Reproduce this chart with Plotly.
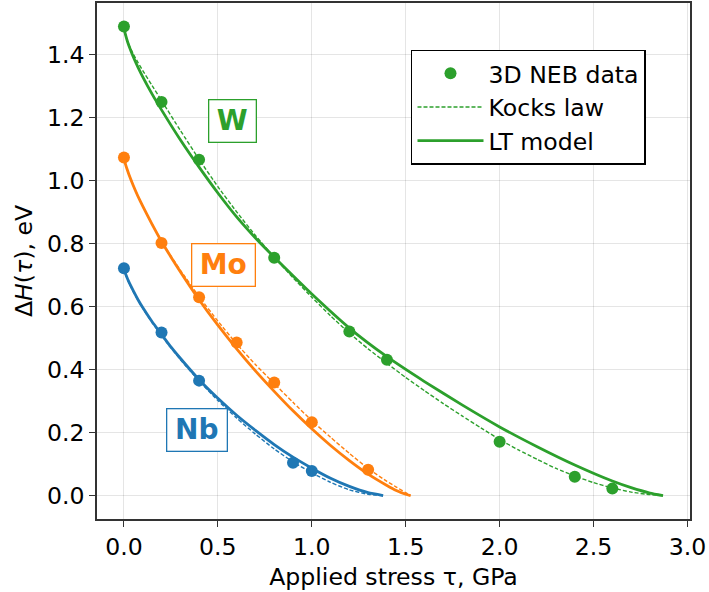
import plotly.graph_objects as go

# ---------------- data ----------------
# 3D NEB data points
W_neb_tau = [0.0, 0.2, 0.4, 0.8, 1.2, 1.4, 2.0, 2.4, 2.6]
W_neb_H = [1.490, 1.250, 1.067, 0.755, 0.521, 0.431, 0.171, 0.060, 0.022]
Mo_neb_tau = [0.0, 0.2, 0.4, 0.6, 0.8, 1.0, 1.3]
Mo_neb_H = [1.074, 0.802, 0.630, 0.486, 0.359, 0.233, 0.082]
Nb_neb_tau = [0.0, 0.2, 0.4, 0.9, 1.0]
Nb_neb_H = [0.722, 0.518, 0.365, 0.104, 0.078]

# LT model (solid) curves
W_lt_tau = [0.0, 0.005, 0.01, 0.02, 0.03, 0.05, 0.075, 0.1, 0.15, 0.2, 0.3, 0.4, 0.5, 0.6, 0.7, 0.8,
            0.9, 1.0, 1.2, 1.4, 1.6, 1.8, 2.0, 2.2, 2.4, 2.6, 2.7, 2.8, 2.87]
W_lt_H = [1.490, 1.472, 1.460, 1.440, 1.423, 1.393, 1.360, 1.330, 1.275, 1.225, 1.130, 1.043, 0.961, 0.885,
          0.818, 0.757, 0.698, 0.640, 0.532, 0.441, 0.362, 0.288, 0.218, 0.155, 0.097, 0.046, 0.025, 0.008, 0.0]
Mo_lt_tau = [0.0, 0.005, 0.01, 0.02, 0.03, 0.05, 0.075, 0.1, 0.15, 0.2, 0.25, 0.3, 0.4, 0.5, 0.6, 0.7,
             0.8, 0.9, 1.0, 1.1, 1.2, 1.3, 1.4, 1.45, 1.5, 1.526]
Mo_lt_H = [1.074, 1.060, 1.049, 1.031, 1.014, 0.984, 0.950, 0.919, 0.861, 0.807, 0.758, 0.711, 0.622,
           0.541, 0.466, 0.396, 0.331, 0.269, 0.212, 0.159, 0.111, 0.068, 0.032, 0.016, 0.004, 0.0]
Nb_lt_tau = [0.0, 0.005, 0.01, 0.02, 0.03, 0.05, 0.075, 0.1, 0.15, 0.2, 0.25, 0.3, 0.4, 0.5, 0.6, 0.7,
             0.8, 0.9, 1.0, 1.1, 1.2, 1.3, 1.38]
Nb_lt_H = [0.722, 0.710, 0.702, 0.687, 0.674, 0.650, 0.622, 0.597, 0.552, 0.512, 0.472, 0.436, 0.368,
           0.309, 0.255, 0.207, 0.162, 0.122, 0.087, 0.055, 0.029, 0.009, 0.0]

# Kocks law (dashed) curves
W_kk_tau = [0.0, 0.005, 0.01, 0.02, 0.03, 0.05, 0.075, 0.1, 0.15, 0.2, 0.3, 0.4, 0.5, 0.6, 0.7, 0.8,
            0.9, 1.0, 1.1, 1.2, 1.3, 1.4, 1.5, 1.6, 1.7, 1.8, 1.9, 2.0, 2.1, 2.2, 2.3, 2.4, 2.5, 2.6,
            2.7, 2.8, 2.87]
W_kk_H = [1.490, 1.471, 1.459, 1.441, 1.427, 1.402, 1.375, 1.350, 1.302, 1.255, 1.160, 1.068, 0.981,
          0.901, 0.826, 0.757, 0.692, 0.630, 0.571, 0.516, 0.466, 0.420, 0.375, 0.333, 0.292, 0.253,
          0.215, 0.178, 0.145, 0.115, 0.086, 0.062, 0.041, 0.024, 0.011, 0.003, 0.0]
Mo_kk_tau = [0.0, 0.005, 0.01, 0.02, 0.03, 0.05, 0.075, 0.1, 0.15, 0.2, 0.25, 0.3, 0.4, 0.5, 0.6, 0.7,
             0.8, 0.9, 1.0, 1.1, 1.2, 1.3, 1.4, 1.45, 1.5, 1.525]
Mo_kk_H = [1.074, 1.060, 1.049, 1.031, 1.015, 0.985, 0.951, 0.920, 0.862, 0.808, 0.761, 0.716, 0.632,
           0.554, 0.482, 0.416, 0.356, 0.296, 0.238, 0.185, 0.134, 0.086, 0.045, 0.027, 0.009, 0.0]
Nb_kk_tau = [0.0, 0.005, 0.01, 0.02, 0.03, 0.05, 0.075, 0.1, 0.15, 0.2, 0.25, 0.3, 0.4, 0.5, 0.6, 0.7,
             0.8, 0.9, 1.0, 1.1, 1.2, 1.3, 1.376]
Nb_kk_H = [0.722, 0.709, 0.700, 0.685, 0.671, 0.647, 0.620, 0.595, 0.549, 0.508, 0.469, 0.432, 0.364,
           0.302, 0.246, 0.195, 0.148, 0.107, 0.072, 0.042, 0.018, 0.004, 0.0]

x_ticks = [0.0, 0.5, 1.0, 1.5, 2.0, 2.5, 3.0]
y_ticks = [0.0, 0.2, 0.4, 0.6, 0.8, 1.0, 1.2, 1.4]

metals = ["Nb", "Mo", "W"]
colors = {"Nb": "#1f77b4", "Mo": "#ff7f0e", "W": "#2ca02c"}
label_pos = {"W": (0.576, 1.190), "Mo": (0.528, 0.732), "Nb": (0.390, 0.207)}
label_box = {"W": (46, 41), "Mo": (62, 41), "Nb": (59, 41)}

neb = {"W": (W_neb_tau, W_neb_H), "Mo": (Mo_neb_tau, Mo_neb_H), "Nb": (Nb_neb_tau, Nb_neb_H)}
lt = {"W": (W_lt_tau, W_lt_H), "Mo": (Mo_lt_tau, Mo_lt_H), "Nb": (Nb_lt_tau, Nb_lt_H)}
kk = {"W": (W_kk_tau, W_kk_H), "Mo": (Mo_kk_tau, Mo_kk_H), "Nb": (Nb_kk_tau, Nb_kk_H)}

FONT = "DejaVu Sans"
FS = 23.6
fig = go.Figure()

for m in metals:
    c = colors[m]
    show = (m == "W")
    fig.add_trace(go.Scatter(x=kk[m][0], y=kk[m][1], mode="lines", name="Kocks law",
                             line=dict(color=c, width=1.4, dash="4px,2px", shape="spline", smoothing=0.5),
                             showlegend=show, legendrank=2))
    fig.add_trace(go.Scatter(x=lt[m][0], y=lt[m][1], mode="lines", name="LT model",
                             line=dict(color=c, width=2.8, shape="spline", smoothing=0.5),
                             showlegend=show, legendrank=3))
for m in metals:
    c = colors[m]
    fig.add_trace(go.Scatter(x=neb[m][0], y=neb[m][1], mode="markers", name="3D NEB data",
                             marker=dict(color=c, size=12, line=dict(width=0)),
                             showlegend=(m == "W"), legendrank=1))

for m in metals:
    x, y = label_pos[m]
    w, h = label_box[m]
    fig.add_annotation(x=x, y=y, xref="x", yref="y", text="<b>%s</b>" % m, showarrow=False,
                       font=dict(family=FONT, size=28, color=colors[m]),
                       bgcolor="white", bordercolor=colors[m], borderwidth=1.3, borderpad=0,
                       width=w, height=h, align="center", valign="middle")

axis_common = dict(showline=True, linecolor="#333333", linewidth=1.6, mirror=True,
                   ticks="outside", ticklen=6, tickwidth=1.4, tickcolor="#333333",
                   showgrid=True, gridcolor="rgba(0,0,0,0.1)", gridwidth=1, zeroline=False,
                   tickfont=dict(family=FONT, size=FS, color="black"))

fig.update_layout(
    width=709, height=592,
    margin=dict(l=97, r=19, t=1, b=73),
    paper_bgcolor="white", plot_bgcolor="white",
    font=dict(family=FONT, color="black"),
    xaxis=dict(range=[-0.1435, 3.0135], tickvals=x_ticks, tickformat=".1f",
               title=dict(text="Applied stress τ, GPa", font=dict(family=FONT, size=FS), standoff=8),
               **axis_common),
    yaxis=dict(range=[-0.0745, 1.5645], tickvals=y_ticks, tickformat=".1f",
               title=dict(text="Δ<i>H</i>(<i>τ</i>), eV", font=dict(family=FONT, size=FS), standoff=8),
               **axis_common),
    legend=dict(x=0.5295, y=0.909, xanchor="left", yanchor="top",
                bgcolor="white", bordercolor="black", borderwidth=1.5,
                font=dict(family=FONT, size=FS, color="black"),
                itemwidth=66, tracegroupgap=0, traceorder="normal"),
)

fig.write_html("out.html", config={"displayModeBar": False},
               post_script="document.body.style.margin='0';")
